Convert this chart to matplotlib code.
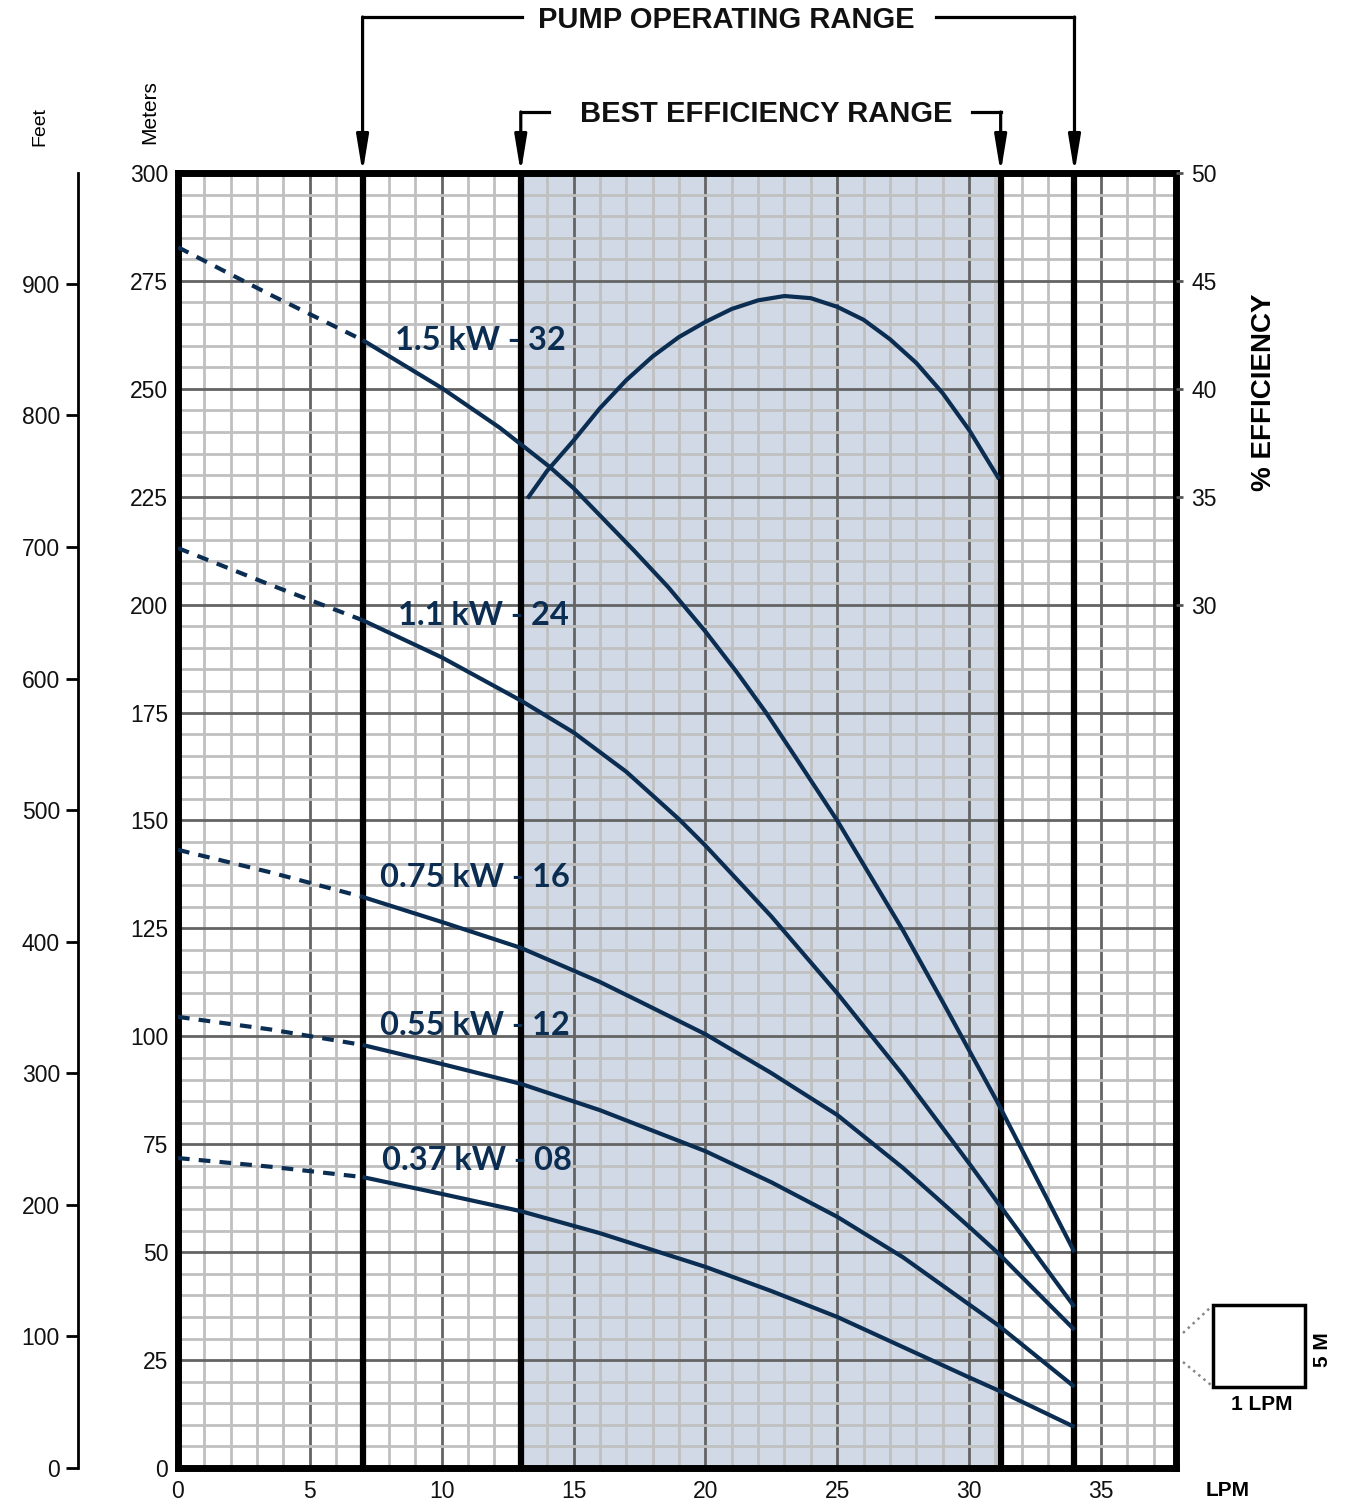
import matplotlib
matplotlib.use("Agg")
import matplotlib.pyplot as plt
from matplotlib.transforms import blended_transform_factory
from matplotlib.patches import Rectangle
from matplotlib.lines import Line2D

plt.rcParams['font.family'] = ['Liberation Sans', 'DejaVu Sans']

# pump curves (LPM, metres) - solid part inside operating range
kw15_x = [7, 10, 12.2, 14.1, 15, 17.3, 18.6, 20, 21.2, 22.3, 23.6, 25, 27.5, 29, 30, 31.1, 34]
kw15_y = [261.3, 250.2, 241, 231.9, 227, 212.5, 204.0, 193.8, 184.3, 175, 163, 150, 124.5,
          108, 96.8, 84.5, 50]
kw11_x = [7, 10, 13, 15, 17, 19, 20, 22.5, 25, 27.5, 30, 31.1, 34]
kw11_y = [196.4, 187.8, 177.8, 170.4, 161.3, 150.3, 144.2, 127.8, 110, 91, 70.6, 61.4, 37.3]
kw075_x = [7, 10, 13, 16, 17.4, 20, 22.5, 25, 27.5, 30, 31.1, 34]
kw075_y = [132.3, 126.5, 120.5, 112.6, 108.4, 100.5, 91.5, 81.8, 69.5, 55.9, 49.8, 32]
kw055_x = [7, 10, 13, 16, 20, 22.5, 25, 27.5, 30, 31.1, 34]
kw055_y = [98, 93.6, 89.0, 82.9, 73.4, 66.2, 58.2, 48.8, 37.9, 33.1, 18.8]
kw037_x = [7, 10, 13, 16, 20, 22.5, 25, 27.5, 30, 31.1, 34]
kw037_y = [67.4, 63.5, 59.5, 54.4, 46.6, 41.0, 35.0, 28.0, 21.0, 18.0, 9.5]

# dashed part below operating range
dash_x = [0, 3.5, 7]
kw15_dy = [282.8, 271.8, 261.3]
kw11_dy = [213.1, 204.6, 196.4]
kw075_dy = [143.2, 138, 132.3]
kw055_dy = [104.5, 101.6, 98]
kw037_dy = [71.8, 69.8, 67.4]

curve_labels = ['1.5 kW - 32', '1.1 kW - 24', '0.75 kW - 16', '0.55 kW - 12', '0.37 kW - 08']
label_x = [8.23, 8.35, 7.66, 7.66, 7.74]
label_y = [261.3, 197.6, 136.7, 102.6, 71.3]

# efficiency curve (%)
eff_x = [13.3, 14, 15, 16, 17, 18, 19, 20, 21, 22, 23, 24, 25, 26, 27, 28, 29, 30, 31.1]
eff_y = [35, 36.2, 37.6, 39.1, 40.4, 41.5, 42.4, 43.1, 43.7, 44.1, 44.3, 44.2, 43.8,
         43.2, 42.3, 41.2, 39.8, 38.1, 35.9]

pump_range = (7, 34)
best_range = (13, 31.2)

x_ticks = [0, 5, 10, 15, 20, 25, 30, 35]
m_ticks = list(range(0, 301, 25))
ft_ticks = list(range(0, 901, 100))
eff_ticks = [30, 35, 40, 45, 50]

navy = '#0b2d52'

fig = plt.figure(figsize=(13.5, 15.05), dpi=100)
W, H = 1350, 1505
left, right, top, bottom = 178, 1176, 173, 1468
ax = fig.add_axes([left / W, 1 - bottom / H, (right - left) / W, (bottom - top) / H])

ax.set_xlim(0, 37.85)
ax.set_ylim(0, 300)
ax.set_xticks(x_ticks)
ax.set_xticks(range(0, 38), minor=True)
ax.set_yticks(m_ticks)
ax.set_yticks(range(0, 301, 5), minor=True)
ax.set_axisbelow(True)
ax.grid(which='minor', color='#c0c0c0', lw=2.0)
ax.grid(which='major', color='#646464', lw=2.0)
ax.tick_params(which='both', length=0)
ax.tick_params(axis='both', labelsize=16.5, colors='#111111')
ax.tick_params(axis='x', pad=9)
ax.tick_params(axis='y', pad=7)
for s in ax.spines.values():
    s.set_linewidth(5)
    s.set_color('black')

ax.axvspan(best_range[0], best_range[1], color='#d1d9e6', zorder=0.1, lw=0)
for xv in [pump_range[0], best_range[0], best_range[1], pump_range[1]]:
    ax.axvline(xv, color='black', lw=4.5, zorder=3)

# curves
series = [(kw15_x, kw15_y, kw15_dy), (kw11_x, kw11_y, kw11_dy), (kw075_x, kw075_y, kw075_dy),
          (kw055_x, kw055_y, kw055_dy), (kw037_x, kw037_y, kw037_dy)]
for sx, sy, dy in series:
    ax.plot(sx, sy, color=navy, lw=3, zorder=4, solid_capstyle='butt', solid_joinstyle='round')
    ax.plot(dash_x, dy, color=navy, lw=3, zorder=4, dashes=(2.8, 2.2))

for txt, lx, ly in zip(curve_labels, label_x, label_y):
    ax.text(lx, ly, txt, family='Lato', weight='bold', fontsize=23.5, color=navy,
            va='center', ha='left', zorder=5)

# efficiency on right axis
ax2 = ax.twinx()
ax2.set_ylim(-10, 50)
ax2.set_yticks(eff_ticks)
ax2.plot(eff_x, eff_y, color=navy, lw=3, zorder=4, solid_joinstyle='round')
for s in ax2.spines.values():
    s.set_visible(False)
ax2.tick_params(axis='y', length=5, width=2, color='#555555', labelsize=16.5,
                labelcolor='#111111', pad=6)
ax2.set_ylabel('% EFFICIENCY', fontsize=20, weight='bold', rotation=90)
ax2.yaxis.set_label_coords(1.075, (1468 - 392) / 1295)

# feet axis on the far left
fax = fig.add_axes([78 / W, 1 - bottom / H, 0.0001, (bottom - top) / H])
fax.set_ylim(0, 300 * 3.28084)
fax.set_yticks(ft_ticks)
fax.set_xticks([])
for k in ['top', 'right', 'bottom']:
    fax.spines[k].set_visible(False)
fax.spines['left'].set_linewidth(2)
fax.tick_params(axis='y', length=9, width=2, labelsize=16.5, labelcolor='#111111', pad=4)
fax.patch.set_visible(False)

fig.text(40 / W, 1 - 127 / H, 'Feet', rotation=90, fontsize=14, ha='center', va='center')
fig.text(150 / W, 1 - 112 / H, 'Meters', rotation=90, fontsize=15, ha='center', va='center')

# range brackets above the chart
tr = blended_transform_factory(ax.transData, ax.transAxes)
pump_y = (bottom - 17) / (bottom - top)
best_y = (bottom - 112) / (bottom - top)
arrow = dict(arrowstyle='-|>,head_length=1.1,head_width=0.18', lw=2.3, color='black',
             shrinkA=0, shrinkB=0, mutation_scale=20)
for xv, yb in [(pump_range[0], pump_y), (pump_range[1], pump_y),
               (best_range[0], best_y), (best_range[1], best_y)]:
    ax.annotate('', xy=(xv, 1.0), xytext=(xv, yb), xycoords=tr, textcoords=tr,
                arrowprops=arrow, annotation_clip=False)
ax.plot([pump_range[0], 13.05], [pump_y, pump_y], transform=tr, color='black', lw=2.3, clip_on=False)
ax.plot([28.74, pump_range[1]], [pump_y, pump_y], transform=tr, color='black', lw=2.3, clip_on=False)
ax.plot([best_range[0], 14.07], [best_y, best_y], transform=tr, color='black', lw=2.3, clip_on=False)
ax.plot([30.1, best_range[1]], [best_y, best_y], transform=tr, color='black', lw=2.3, clip_on=False)
ax.text(20.8, (bottom - 20) / (bottom - top), 'PUMP OPERATING RANGE', transform=tr,
        fontsize=21, weight='bold', ha='center', va='center', color='#111111')
ax.text(22.3, (bottom - 114) / (bottom - top), 'BEST EFFICIENCY RANGE', transform=tr,
        fontsize=21, weight='bold', ha='center', va='center', color='#111111')

# scale key bottom right
fig.add_artist(Rectangle((1213 / W, 1 - 1387 / H), 92 / W, 82 / H, transform=fig.transFigure,
                         fill=False, lw=2.5, edgecolor='black'))
fig.add_artist(Line2D([1183 / W, 1211 / W], [1 - 1333 / H, 1 - 1307 / H], transform=fig.transFigure,
                      color='#888888', lw=1.8, ls=':'))
fig.add_artist(Line2D([1183 / W, 1211 / W], [1 - 1362 / H, 1 - 1385 / H], transform=fig.transFigure,
                      color='#888888', lw=1.8, ls=':'))
fig.text(1262 / W, 1 - 1405 / H, '1 LPM', fontsize=15, weight='bold', ha='center', va='center')
fig.text(1322 / W, 1 - 1350 / H, '5 M', fontsize=15, weight='bold', rotation=90, ha='center', va='center')
fig.text(1228 / W, 1 - 1490 / H, 'LPM', fontsize=15, weight='bold', ha='center', va='center')

fig.savefig('out.png', dpi=100)
